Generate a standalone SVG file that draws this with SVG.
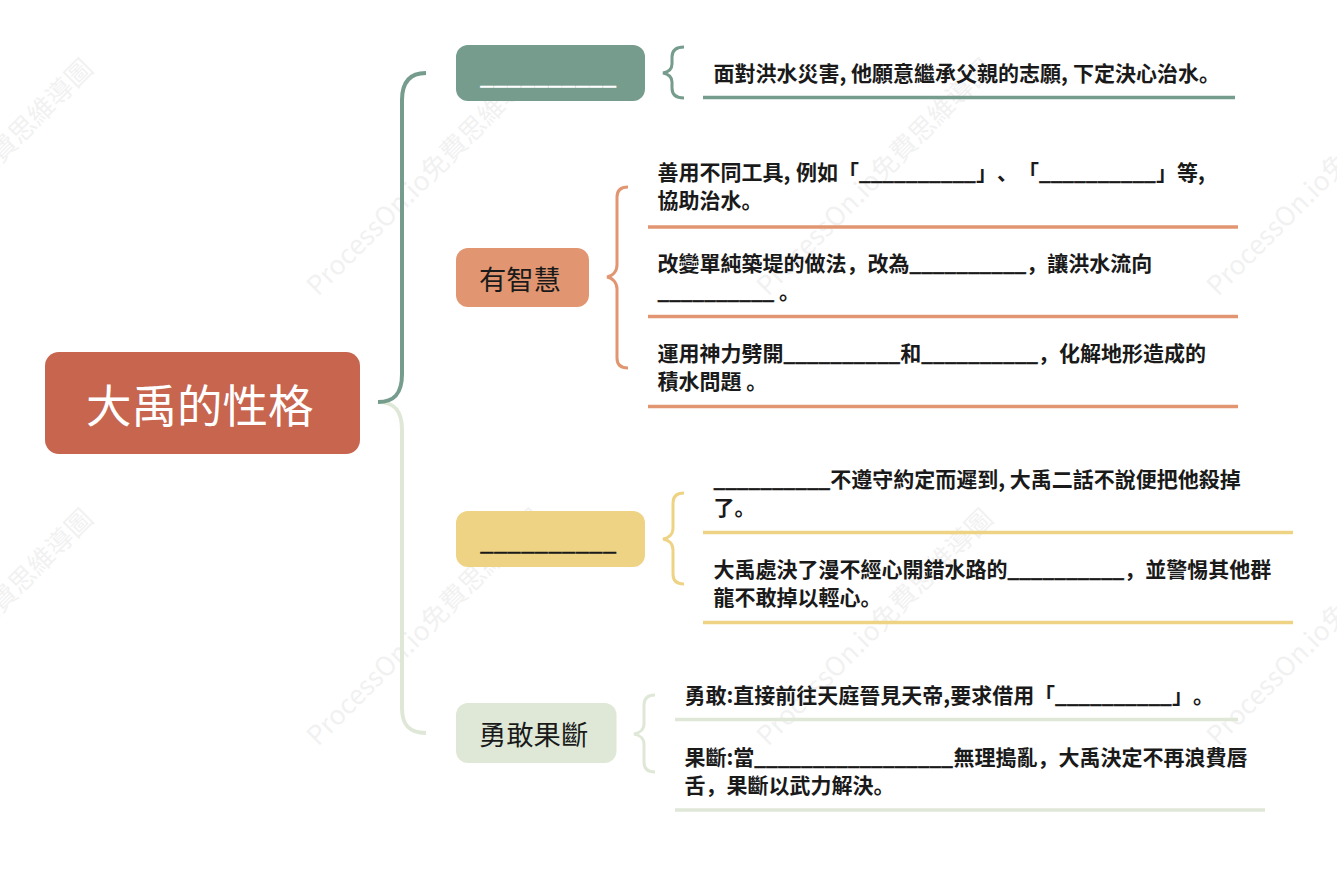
<svg xmlns="http://www.w3.org/2000/svg" width="1337" height="870" viewBox="0 0 1337 870">
<style>
text{font-family:"Noto Sans CJK SC","Noto Sans CJK TC",sans-serif;text-spacing-trim:space-all}
.t{font-size:21px;font-weight:700;fill:#1a1a1a}
.n{font-size:27.300px;fill:#1a1a1a}
.w{font-size:26.500px;fill:#000;opacity:.05}
.c{fill:none;stroke-width:4}
.b{fill:none;stroke-width:3}
.u{fill:none;stroke-width:3.500}
.l{font-size:20.600px;stroke:#1a1a1a;stroke-width:.4}
</style>
<rect width="1337" height="870" fill="#fff"/>
<g id="watermark">
<text class="w" transform="translate(-132 297) rotate(-45)">ProcessOn.io免費思維導圖</text>
<text class="w" transform="translate(318 297) rotate(-45)">ProcessOn.io免費思維導圖</text>
<text class="w" transform="translate(768 297) rotate(-45)">ProcessOn.io免費思維導圖</text>
<text class="w" transform="translate(1218 297) rotate(-45)">ProcessOn.io免費思維導圖</text>
<text class="w" transform="translate(-132 747) rotate(-45)">ProcessOn.io免費思維導圖</text>
<text class="w" transform="translate(318 747) rotate(-45)">ProcessOn.io免費思維導圖</text>
<text class="w" transform="translate(768 747) rotate(-45)">ProcessOn.io免費思維導圖</text>
<text class="w" transform="translate(1218 747) rotate(-45)">ProcessOn.io免費思維導圖</text>
</g>
<g id="connectors">
<path class="c" stroke="#dfe8d7" d="M378 402C394 402 402 410 402 430V708C402 726 410 733 426 733"/>
<path class="c" stroke="#759c8c" d="M378 402C394 402 402 394 402 374V100C402 82 410 73 426 73"/>
<path class="b" stroke="#759c8c" d="M684 47C675 47 672 51 672 57V64C672 69 668 72 663 73C668 74 672 77 672 82V88C672 94 675 98 684 98"/>
<path class="b" stroke="#e19671" d="M628 187C620 187 617 191 617 197V265C617 271 613 276 607 277C613 278 617 283 617 289V358C617 364 620 368 628 368"/>
<path class="b" stroke="#efd384" d="M684 493C676 493 673 497 673 503V528C673 534 669 538 663 539C669 540 673 544 673 550V574C673 580 676 584 684 584"/>
<path class="b" stroke="#dfe8d7" d="M655 695C647 695 644 699 644 705V724C644 729 640 733 634 734C640 735 644 739 644 744V762C644 768 647 772 655 772"/>
<path class="u" stroke="#759c8c" d="M703 97.500H1235"/>
<path class="u" stroke="#e19671" d="M648 227H1238M648 316.500H1238M648 406.500H1238"/>
<path class="u" stroke="#efd384" d="M703 532.500H1293M703 622.500H1293"/>
<path class="u" stroke="#dfe8d7" d="M675 719.500H1238M675 810H1265"/>
</g>
<g id="root"><rect x="45" y="352" width="315" height="102" rx="14" fill="#c7654f"/><text x="86" y="423" font-size="45.500" fill="#fff">大禹的性格</text></g>
<g id="n1"><rect x="456" y="45" width="189" height="56" rx="12" fill="#759c8c"/><text x="480" y="84" font-size="24.400" fill="#fff" stroke="#fff" stroke-width=".4">__________</text></g>
<g id="n1a"><text class="t" x="713.500" y="81">面對洪水災害,<tspan x="851">他願意繼承父親的志願,</tspan><tspan x="1073">下定決心治水。</tspan></text></g>
<g id="n2"><rect x="456" y="248" width="133" height="59" rx="12" fill="#e19671"/><text class="n" x="479" y="290">有智慧</text></g>
<g id="n2a"><text class="t" x="657.500" y="180">善用不同工具,<tspan x="796">例如</tspan><tspan x="838">「</tspan><tspan class="l" x="859">__________</tspan><tspan x="976">」</tspan><tspan x="997">、</tspan><tspan x="1018">「</tspan><tspan class="l" x="1039">__________</tspan><tspan x="1156">」</tspan><tspan x="1177">等,</tspan></text><text class="t" x="657.500" y="208">協助治水。</text></g>
<g id="n2b"><text class="t" x="657.500" y="271">改變單純築堤的做法，改為<tspan class="l">__________</tspan>，讓洪水流向</text><text class="t" x="657.500" y="299"><tspan class="l">__________</tspan> 。</text></g>
<g id="n2c"><text class="t" x="657.500" y="361">運用神力劈開<tspan class="l">__________</tspan>和<tspan class="l">__________</tspan>，化解地形造成的</text><text class="t" x="657.500" y="389">積水問題 。</text></g>
<g id="n3"><rect x="456" y="511" width="189" height="56" rx="12" fill="#efd384"/><text x="480" y="550" font-size="24.400" fill="#1a1a1a" stroke="#1a1a1a" stroke-width=".4">__________</text></g>
<g id="n3a"><text class="t" x="713.500" y="487"><tspan class="l">__________</tspan>不遵守約定而遲到, 大禹二話不說便把他殺掉</text><text class="t" x="713.500" y="515">了。</text></g>
<g id="n3b"><text class="t" x="713.500" y="577">大禹處決了漫不經心開錯水路的<tspan class="l">__________</tspan>，並警惕其他群</text><text class="t" x="713.500" y="605">龍不敢掉以輕心。</text></g>
<g id="n4"><rect x="456" y="703" width="160.500" height="60" rx="12" fill="#dfe8d7"/><text class="n" x="479" y="745">勇敢果斷</text></g>
<g id="n4a"><text class="t" x="684.500" y="703">勇敢:直接前往天庭晉見天帝,要求借用<tspan x="1034">「</tspan><tspan class="l" x="1055">__________</tspan><tspan x="1172">」</tspan><tspan x="1193">。</tspan></text></g>
<g id="n4b"><text class="t" x="684.500" y="765">果斷:當<tspan class="l">_________________</tspan><tspan x="953.500">無理搗亂，大禹決定不再浪費唇</tspan></text><text class="t" x="684.500" y="793">舌，果斷以武力解決。</text></g>
</svg>
